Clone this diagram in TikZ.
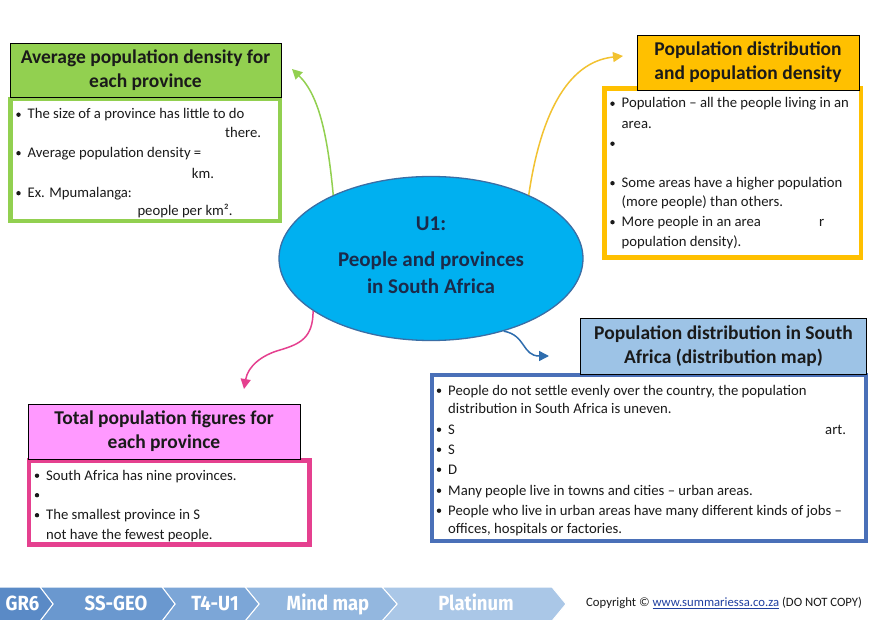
\documentclass[tikz,border=0pt]{standalone}
\usepackage{fontspec}
\setmainfont{Carlito}
\newfontfamily\chevfont[FakeStretch=0.9]{Fira Sans}
\usetikzlibrary{arrows.meta,shapes.geometric}
\definecolor{txt}{HTML}{1A1A1A}
\definecolor{gfill}{HTML}{92D050}
\definecolor{yfill}{HTML}{FFC000}
\definecolor{yarrow}{HTML}{F2C231}
\definecolor{bhead}{HTML}{9DC3E6}
\definecolor{bborder}{HTML}{4A70B8}
\definecolor{barrow}{HTML}{2E6DAE}
\definecolor{phead}{HTML}{FF99FF}
\definecolor{pborder}{HTML}{E5408F}
\definecolor{ellfill}{HTML}{00B0F0}
\definecolor{ellborder}{HTML}{3A6EA5}
\definecolor{elltxt}{HTML}{1B2A4A}
\definecolor{ch1}{HTML}{5A8AC6}
\definecolor{ch2}{HTML}{6A98CF}
\definecolor{ch3}{HTML}{7CA6D7}
\definecolor{ch4}{HTML}{93B7DF}
\definecolor{ch5}{HTML}{AAC7E7}
\definecolor{linkblue}{HTML}{1F3FA0}
\newcommand\bdot[2]{\fill[txt] (#1-9,#2-4.3) circle[radius=2.2pt];}
\newcommand\bline[4]{\bdot{#2}{#3}\node[body] (#1) at (#2,#3) {#4};}
\newcommand\pline[4]{\node[body] (#1) at (#2,#3) {#4};}
\begin{document}
\begin{tikzpicture}[x=1pt,y=-1pt,
  body/.style={anchor=base west, inner sep=0pt, font=\fontsize{14.7}{16}\selectfont, text=txt},
  hdr/.style={draw=black, line width=0.9pt, align=center, inner sep=0pt, text=txt,
     font=\bfseries\fontsize{19.5}{24}\selectfont},
  bodybox/.style={line width=4.3pt, fill=white},
  conn/.style={line width=1.5pt, -{Triangle[length=10pt,width=10pt]}},
  chevtxt/.style={anchor=base, text=white, inner sep=0pt, font=\chevfont\bfseries\fontsize{20.5}{22}\selectfont}]
\useasboundingbox (0,0) rectangle (873,620);
\fill[white] (0,0) rectangle (873,620);

% ---------- green ----------
\draw[bodybox, draw=gfill] (10.5,99) rectangle (280,221);
\node[hdr, fill=gfill, minimum width=271pt, minimum height=54pt] (gh) at (145.5,70)
  {Average population density for\\each province};
\bline{g1}{27.5}{119}{The size of a province has little to do}
\pline{g2}{225}{137.5}{there.}
\bline{g3}{27.5}{157.5}{Average population density =}
\pline{g4}{191.7}{178.5}{km.}
\bline{g5}{27.5}{197.5}{Ex. Mpumalanga:}
\pline{g6}{137.3}{216}{people per km².}

% ---------- yellow ----------
\draw[bodybox, draw=yfill] (604.5,88.5) rectangle (861,257.5);
\node[hdr, fill=yfill, minimum width=222pt, minimum height=55pt] (yh) at (748,62.5)
  {Population distribution\\and population density};
\bline{y1}{621.5}{108}{Population – all the people living in an}
\pline{y2}{621.5}{129}{area.}
\bdot{621.5}{148}
\bline{y3}{621.5}{187.5}{Some areas have a higher population}
\pline{y4}{621.5}{207}{(more people) than others.}
\bline{y5}{621.5}{226.5}{More people in an area}
\pline{y6}{819}{226.5}{r}
\pline{y7}{621.5}{247}{population density).}

% ---------- blue ----------
\draw[bodybox, draw=bborder] (432,375) rectangle (866,541);
\node[hdr, fill=bhead, minimum width=286pt, minimum height=56pt] (bh) at (723.5,346)
  {Population distribution in South\\Africa (distribution map)};
\bline{b1}{448}{395}{People do not settle evenly over the country, the population}
\pline{b2}{448}{413.5}{distribution in South Africa is uneven.}
\bline{b3}{448}{434}{S}
\pline{b4}{825}{434}{art.}
\bline{b5}{448}{454}{S}
\bline{b6}{448}{474}{D}
\bline{b7}{448}{495}{Many people live in towns and cities – urban areas.}
\bline{b8}{448}{515}{People who live in urban areas have many different kinds of jobs –}
\pline{b9}{448}{533.5}{offices, hospitals or factories.}

% ---------- pink ----------
\draw[bodybox, draw=pborder] (29,460.5) rectangle (309.5,544.5);
\node[hdr, fill=phead, minimum width=272pt, minimum height=55pt] (ph) at (164,431.5)
  {Total population figures for\\each province};
\bline{p1}{46}{480}{South Africa has nine provinces.}
\bdot{46}{499.5}
\bline{p2}{46}{519.5}{The smallest province in S}
\pline{p3}{46}{539}{not have the fewest people.}

% ---------- centre ----------
\node[ellipse, draw=ellborder, fill=ellfill, line width=1.3pt, minimum width=304pt,
  minimum height=164pt, inner sep=0pt] (c) at (431,258.5) {};
\node[align=center, inner sep=0pt, text=elltxt, font=\bfseries\fontsize{21}{27}\selectfont]
  (ct) at (431,255.5) {U1:\\[9pt]People and provinces\\in South Africa};

% ---------- connectors ----------
\coordinate (gt) at (292,69);
\coordinate (yt) at (623,56);
\coordinate (pt) at (244,389);
\coordinate (bt) at (549,356);
\coordinate (pm) at (280,350);
\draw[conn, gfill] (c.147) .. controls (328,140) and (320,96) .. (gt);
\draw[conn, yarrow] (c.33) .. controls (540,118) and (566,62) .. (yt);
\draw[conn, pborder] (c.204) .. controls (313,338) and (300,344) .. (pm)
   .. controls (262,355) and (248,366) .. (pt);
\draw[conn, barrow] (c.-45) .. controls (526,335) and (522,356) .. (bt);

% ---------- footer ----------
\fill[ch5, draw=white, line width=1pt] (382,587) -- (552,587) -- (566,604) -- (552,621) -- (382,621) -- (397,604) -- cycle;
\fill[ch4, draw=white, line width=1pt] (245,587) -- (382,587) -- (397,604) -- (382,621) -- (245,621) -- (259,604) -- cycle;
\fill[ch3, draw=white, line width=1pt] (162,587) -- (245,587) -- (259,604) -- (245,621) -- (162,621) -- (175,604) -- cycle;
\fill[ch2, draw=white, line width=1pt] (40,587) -- (162,587) -- (175,604) -- (162,621) -- (40,621) -- (53,604) -- cycle;
\fill[ch1, draw=white, line width=1pt] (-2,587) -- (40,587) -- (53,604) -- (40,621) -- (-2,621) -- cycle;
\node[chevtxt] (f1) at (22.5,610) {GR6};
\node[chevtxt] (f2) at (116,610) {SS-GEO};
\node[chevtxt] (f3) at (215,610) {T4-U1};
\node[chevtxt] (f4) at (328,610) {Mind map};
\node[chevtxt] (f5) at (476,610) {Platinum};
\node[anchor=west, inner sep=0pt, text=txt, font=\fontsize{12.7}{14}\selectfont] (cr) at (586,603)
  {Copyright © \textcolor{linkblue}{\underline{www.summariessa.co.za}} (DO NOT COPY)};
\end{tikzpicture}
\end{document}
